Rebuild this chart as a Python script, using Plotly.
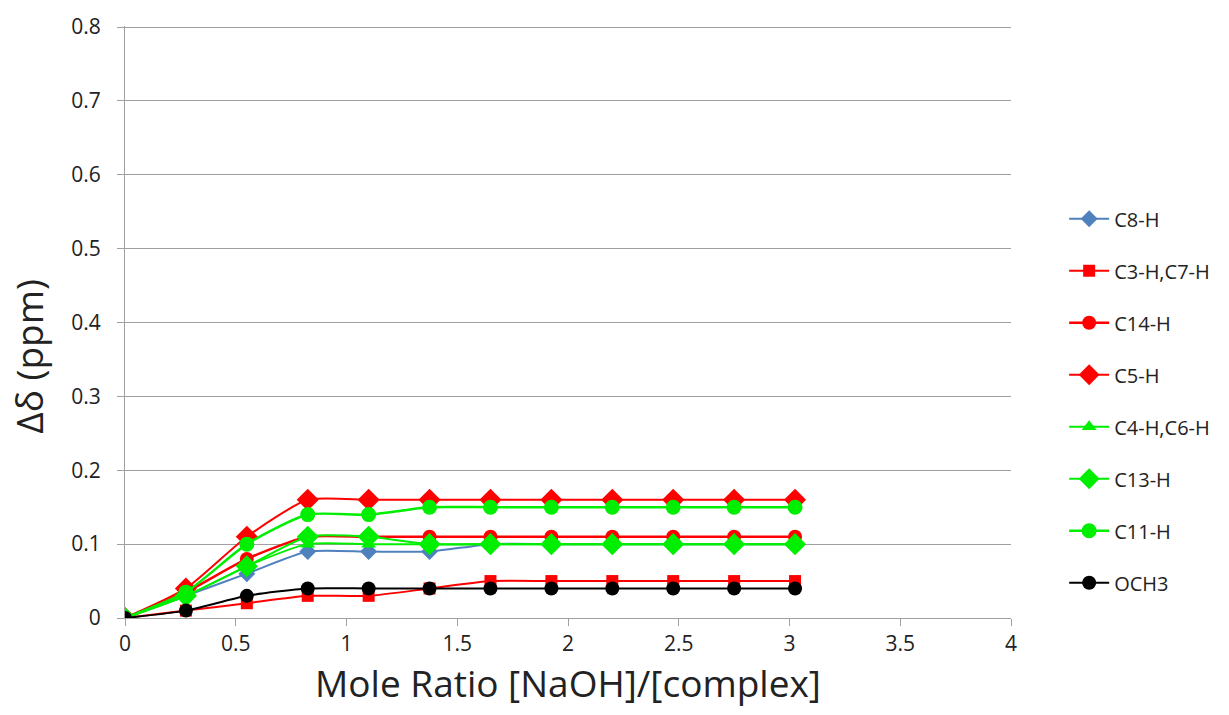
import plotly.graph_objects as go

# Mole ratio [NaOH]/[complex]
mole_ratio = [0, 0.275, 0.55, 0.825, 1.1, 1.375, 1.65, 1.925, 2.2, 2.475, 2.75, 3.025]

# Chemical shift changes (ppm) per proton
c8_h = [0, 0.03, 0.06, 0.09, 0.09, 0.09, 0.10, 0.10, 0.10, 0.10, 0.10, 0.10]
c3_c7_h = [0, 0.01, 0.02, 0.03, 0.03, 0.04, 0.05, 0.05, 0.05, 0.05, 0.05, 0.05]
c14_h = [0, 0.035, 0.08, 0.11, 0.11, 0.11, 0.11, 0.11, 0.11, 0.11, 0.11, 0.11]
c5_h = [0, 0.04, 0.11, 0.16, 0.16, 0.16, 0.16, 0.16, 0.16, 0.16, 0.16, 0.16]
c4_c6_h = [0, 0.03, 0.07, 0.10, 0.10, 0.10, 0.10, 0.10, 0.10, 0.10, 0.10, 0.10]
c13_h = [0, 0.03, 0.07, 0.11, 0.11, 0.10, 0.10, 0.10, 0.10, 0.10, 0.10, 0.10]
c11_h = [0, 0.035, 0.10, 0.14, 0.14, 0.15, 0.15, 0.15, 0.15, 0.15, 0.15, 0.15]
och3 = [0, 0.01, 0.03, 0.04, 0.04, 0.04, 0.04, 0.04, 0.04, 0.04, 0.04, 0.04]

series = [
    ("C8-H", c8_h, "#4F81BD", "diamond", 13, 2),
    ("C3-H,C7-H", c3_c7_h, "#FF0000", "square", 12, 2),
    ("C14-H", c14_h, "#FF0000", "circle", 14, 2.5),
    ("C5-H", c5_h, "#FF0000", "diamond", 17, 2),
    ("C4-H,C6-H", c4_c6_h, "#00EE00", "triangle-up", 13, 2),
    ("C13-H", c13_h, "#00EE00", "diamond", 17, 2),
    ("C11-H", c11_h, "#00EE00", "circle", 15, 2.5),
    ("OCH3", och3, "#000000", "circle", 14, 2),
]

fig = go.Figure()
for i, (name, vals, color, symbol, size, width) in enumerate(series):
    fig.add_trace(go.Scatter(
        x=mole_ratio, y=vals, name=name, mode="lines+markers",
        line=dict(color=color, width=width, shape="spline", smoothing=0.6),
        marker=dict(symbol=symbol, size=size, color=color),
        legendgroup=f"g{i}",
    ))

# y-axis title placed as a rotated annotation, sitting slightly below centre
fig.add_annotation(
    text="Δδ (ppm)", textangle=-90,
    xref="paper", yref="paper", x=-0.109, y=0.442,
    xanchor="center", yanchor="middle", showarrow=False,
    font=dict(size=37, color="#222222"),
)

fig.update_layout(
    width=1229, height=715,
    margin=dict(l=125, r=218, t=23, b=97),
    paper_bgcolor="white", plot_bgcolor="white",
    font=dict(family="Open Sans, Liberation Sans, sans-serif", color="#222222", size=20),
    showlegend=True,
    legend=dict(
        x=1.06, xanchor="left", y=0.367, yanchor="middle",
        font=dict(size=20, color="#222222"),
        tracegroupgap=23, itemwidth=40,
    ),
    xaxis=dict(
        range=[0, 4], dtick=0.5, tickmode="linear",
        showgrid=False, zeroline=False,
        showline=True, linecolor="#A0A0A0", linewidth=1,
        ticks="outside", ticklen=7, tickcolor="#A0A0A0",
        tickfont=dict(size=21),
        title=dict(text="Mole Ratio [NaOH]/[complex]", font=dict(size=37), standoff=14),
    ),
    yaxis=dict(
        range=[0, 0.8015], dtick=0.1, tickmode="linear",
        showgrid=True, gridcolor="#A0A0A0", gridwidth=1,
        zeroline=False,
        showline=True, linecolor="#A0A0A0", linewidth=1,
        ticks="outside", ticklen=7, tickcolor="#A0A0A0",
        tickfont=dict(size=21), ticklabelstandoff=12,
    ),
)

fig.write_html("out.html")
